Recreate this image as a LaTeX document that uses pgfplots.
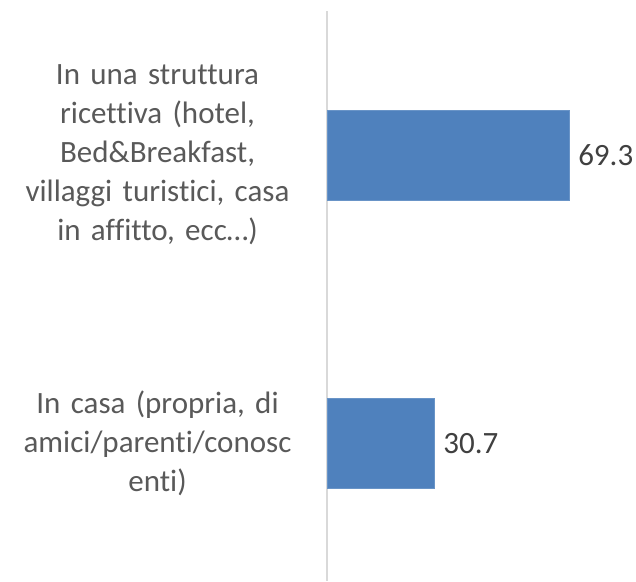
\documentclass[border=0pt]{standalone}
\usepackage{pgfplots}
\pgfplotsset{compat=1.18}
\usepackage{fontspec}
\setmainfont{Carlito}[Ligatures=CommonOff, WordSpace=0.85]
\definecolor{barblue}{HTML}{4F81BD}
\definecolor{axisgray}{HTML}{D9D9D9}
\definecolor{labelgray}{HTML}{595959}
\definecolor{valgray}{HTML}{404040}
\begin{document}
\begin{tikzpicture}
\useasboundingbox (0,0) rectangle (636pt,581pt); % same size as the reference
\begin{axis}[
    at={(327pt,0pt)}, anchor=south west,
    scale only axis,
    width=309pt, height=570pt,
    xbar,
    bar width=0.3125,
    xmin=0, xmax=88.5,
    ymin=-0.5, ymax=1.478,
    y dir=reverse,
    separate axis lines,
    axis x line=none,
    axis y line*=left,
    y axis line style={draw=axisgray, line width=1.3pt},
    ytick={0,1},
    ytick style={draw=none},
    yticklabels={{In una struttura\\ricettiva (hotel,\\Bed\&Breakfast,\\villaggi turistici, casa\\in affitto, ecc…)},
                 {In casa (propria, di\\amici/parenti/conosc\\enti)}},
    yticklabel style={anchor=east, text width=290pt, align=center, inner sep=0pt,
        xshift=-20pt, text=labelgray, font={\fontsize{31}{39}\selectfont}},
    nodes near coords,
    nodes near coords style={anchor=west, inner sep=0pt, xshift=9pt,
        text=valgray, font={\fontsize{31}{39}\selectfont},
        /pgf/number format/.cd, fixed, precision=1, assume math mode=true},
    clip=false,
]
\addplot[fill=barblue, draw=barblue!85!white, line width=0.6pt] coordinates {(69.3,0) (30.7,1)};
\end{axis}
\end{tikzpicture}
\end{document}
